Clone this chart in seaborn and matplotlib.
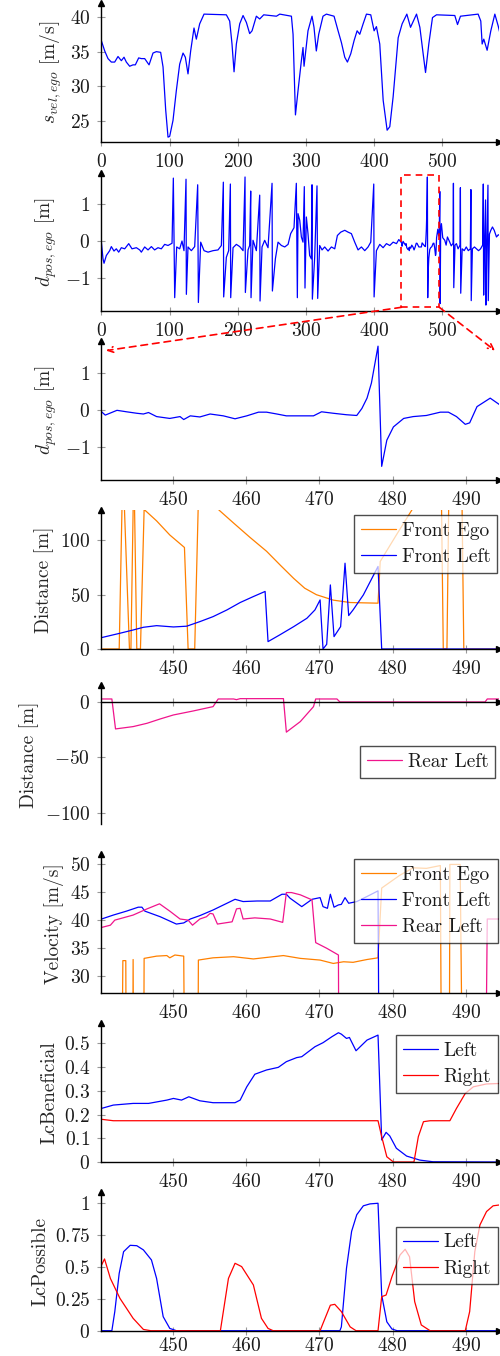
import matplotlib
matplotlib.use("Agg")
import matplotlib.pyplot as plt
import seaborn as sns
from matplotlib.patches import Rectangle, ConnectionPatch
from matplotlib.ticker import FuncFormatter

sns.set_style("ticks")
plt.rcParams["font.family"] = ["cmr10", "DejaVu Serif"]
plt.rcParams["mathtext.fontset"] = "cm"
plt.rcParams["axes.formatter.use_mathtext"] = True
plt.rcParams["font.size"] = 14
plt.rcParams["text.color"] = "#1a1a1a"

BLUE = "#0000ff"
RED = "#ff0000"
ORANGE = "#ff8000"
PINK = "#f0148c"

# ---------------------------------------------------------
# data: ego speed over the full run
# ---------------------------------------------------------
speed_t = [0, 5, 9.8, 14.7, 19.6, 24.5, 29.4, 33.3, 36.7, 41.6, 46.5, 49.9, 54.8, 58.7, 63.6,
           70, 75.8, 80.7, 87, 90.5, 94.4, 97.8, 100.2, 105.1, 110, 114.9, 119.8, 123.2, 127.1,
           131, 135.9, 139.3, 144.2, 150.6, 183.3, 188.2, 191.6, 194.6, 198, 202.9, 207.8,
           212.7, 217.5, 221, 227.3, 232.2, 238.1, 256.7, 261.6, 278.7, 281.1, 284.6, 288.4,
           293.3, 295.7, 297.2, 303, 308.9, 311.8, 315.2, 318.7, 325, 330, 341.2, 347.1, 352,
           356.9, 360.8, 365.7, 370.6, 375, 378.9, 383.8, 388.7, 395, 399.9, 403.3, 408.2,
           413.2, 419, 422.9, 427.8, 435.2, 441, 447.9, 453.3, 462.1, 467, 471.8, 475.3, 480.1,
           485.5, 491.4, 518.2, 522.2, 526.5, 552.4, 556.3, 558.3, 560.7, 565.6, 571, 576.9,
           581.8, 584.7]
speed_v = [36.6, 35.1, 34.0, 33.5, 33.5, 34.3, 33.7, 34.2, 33.5, 32.9, 33.1, 33.1, 34.1, 34.0, 34.0,
           33.1, 34.8, 35.0, 34.9, 32.8, 26.6, 22.7, 22.8, 25.1, 29.4, 33.2, 34.8, 34.2, 31.8,
           35.1, 38.4, 36.8, 39.0, 40.4, 40.3, 39.4, 36.1, 32.1, 36.1, 39.0, 40.2,
           39.2, 37.6, 38.0, 40.1, 39.7, 40.3, 40.1, 40.4, 40.1, 37.5, 25.9, 29.4,
           33.7, 35.6, 32.9, 38.0, 40.1, 38.5, 35.1, 37.5, 40.1, 40.4, 40.1, 38.0, 36.3,
           34.2, 33.5, 34.7, 36.6, 38.0, 37.5, 39.0, 40.4, 40.3, 38.0, 38.6, 36.1,
           28.0, 23.7, 24.2, 28.5, 37.0, 39.0, 40.4, 38.5, 40.4, 38.5, 34.7, 32.0, 36.1,
           39.9, 40.3, 40.2, 38.9, 40.1, 40.4, 39.4, 36.1, 36.8, 35.2, 38.0, 40.4,
           38.7, 37.5]

# ---------------------------------------------------------
# data: lateral position, first part (0 - 440)
# ---------------------------------------------------------
dpos_a_t = [0, 2.5, 4, 7.4, 12.3, 14.7, 18.6, 22, 25.5, 29.4, 34.3, 40.2, 45, 51.4, 56.3, 58.7,
            63.6, 68.5, 73.4, 78.2, 83.1, 88, 92.9, 97.8, 103.7, 105.6, 107.6, 110.5, 114.9,
            118.3, 121.2, 124.2, 124.7, 127.1, 132, 136.9, 141.3, 142.3, 145.7, 150.6, 156.5,
            163.8, 171.1, 176, 178.9, 179.4, 183.3, 186.7, 189.2, 189.7, 193.1, 198, 202.9,
            207.8, 210.7, 211.2, 215.1, 217.5, 219, 219.5, 222.4, 227.3, 232.2, 232.7, 235.6,
            239.5, 244.4, 250.3, 250.8, 255.2, 259.1, 264, 268.9, 273.8, 277.6, 282.5, 285.9,
            287.4, 288.4, 290.9, 293.3, 295.7, 297.6, 298.6, 300.6, 303, 305.4, 307.9, 308.9,
            309.4, 312.8, 316.2, 317.2, 320.1, 323.6, 327.5, 332.4, 337.3, 342.2, 346.1, 351,
            356.9, 361.8, 366.6, 371.5, 376.4, 381.3, 386.2, 391.1, 395, 399.4, 399.9, 403.3,
            408.2, 413.1, 418, 422.9, 427.8, 432.7, 436.1]
dpos_a_v = [0, -0.47, -0.59, -0.38, -0.25, -0.14, -0.26, -0.2, -0.29, -0.17, -0.2, -0.06, -0.2, -0.17,
            -0.23, -0.29, -0.15, -0.23, -0.14, -0.23, -0.17, -0.2, -0.08, -0.11, -0.05, 1.71, -1.52,
            -0.15, -0.2, 0.01, -0.25, 1.68, -1.43, -0.15, -0.25, -0.14, 1.53, -1.65, -0.02, -0.25,
            -0.29, -0.25, -0.23, -0.11, 1.6, -1.5, -0.43, -0.25, 1.55, -1.52, -0.17, -0.08, -0.14,
            -0.25, 1.74, -1.38, -0.23, -0.11, 1.36, -1.52, 0.03, -0.25, 1.25, -1.61, -0.15,
            0.03, -0.17, 1.57, -1.34, -0.47, -0.02, -0.11, -0.15, -0.08, 0.21, 0.37, 1.57,
            -1.52, 0.75, 0.57, 0.12, -0.02, 1.48, -1.26, 0.66, 0.21, -0.38, -0.47, 1.53,
            -1.56, -0.43, 1.5, -1.54, -0.11, -0.23, -0.15, -0.26, -0.15, -0.2, 0.16, 0.25,
            0.3, 0.25, 0.21, -0.02, -0.23, -0.15, -0.25, -0.15, -0.02, 1.55, -1.5, -0.25,
            -0.08, -0.17, -0.06, -0.11, -0.02, -0.06, 0.05]

# lateral position, zoomed window (440 - 495)
dpos_z_t = [440.3, 440.8, 442.4, 443.7, 445.1, 446, 446.7, 447.8, 449.6, 451, 451.5, 452.4, 453.7,
            455.1, 456.9, 458.5, 460.1, 461.7, 462.8, 464.2, 465.5, 467.4, 469.2, 470.3, 471.9,
            473.7, 475.1, 475.8, 476.5, 477.1, 478, 478.5, 479.2, 480.1, 481.5, 482.8, 484.6,
            486.5, 487.6, 488.7, 489.9, 490.5, 491.5, 493.3, 494.6]
dpos_z_v = [-0.04, -0.13, 0, -0.04, -0.08, -0.1, -0.06, -0.17, -0.22, -0.17, -0.25, -0.15, -0.18,
            -0.1, -0.15, -0.23, -0.15, -0.05, -0.05, -0.1, -0.15, -0.15, -0.15, -0.04, -0.08,
            -0.12, -0.14, 0.05, 0.33, 0.74, 1.74, -1.52, -0.81, -0.45, -0.22, -0.17, -0.14,
            -0.05, -0.05, -0.17, -0.38, -0.34, 0.1, 0.33, 0.15]

# lateral position, last part (495 - 584)
dpos_b_t = [495.4, 496.2, 496.7, 497.5, 498.6, 500.5, 503.5, 505.5, 507.4, 510.8, 513, 515.7, 516.2,
            516.7, 518.5, 520.6, 523, 525.9, 526.4, 526.9, 529, 532, 535, 538, 541, 541.8, 542.3,
            544, 547, 550, 553, 556, 559, 560, 560.5, 561.5, 563.3, 563.8, 565, 566.8, 567.3,
            569, 571, 573.4, 576, 579.3, 582, 584]
dpos_b_v = [0.2, 1.35, -1.68, 0.3, 0.48, 0.1, 0.03, -0.1, 0.12, -0.02, -0.12, -0.05, 1.57,
            -1.25, -0.1, -0.06, -0.2, -0.1, 1.45, -1.4, -0.2, -0.25, -0.15, -0.25, -0.2, 1.4, -1.6,
            -0.2, -0.15, -0.2, -0.25, -0.2, -0.1, 1.55, -1.45, -0.3, 1.12, -1.72, -0.3, 1.52, -1.6,
            0.2, 0.3, 0.39, 0.3, 0.12, 0.18, 0.16]

# ---------------------------------------------------------
# data: distances to surrounding vehicles (zoomed window)
# ---------------------------------------------------------
front_ego_dist_t = [440.3, 442.7, 443.2, 444.1, 444.3, 444.7, 445.1, 445.6, 446.1, 447.8, 449.6,
                    451.6, 452.1, 453.0, 453.6, 456.3, 458.3, 460.5, 462.8, 464.7, 466.5, 468,
                    469.6, 471.9, 474.2, 476, 478, 478.3, 480.5, 482.8, 484.8, 486.6, 486.9,
                    487.4, 487.7, 489.4, 489.7, 494.6]
front_ego_dist = [0, 0, 170, 0, 0, 170, 0, 0, 128.5, 118, 105,
                  93.5, 0, 0, 165, 128, 116, 103, 90, 77, 65, 56,
                  50, 45, 42.8, 42.5, 42.2, 80.6, 105, 130, 150, 165, 0,
                  0, 165, 165, 0, 0]

front_left_dist_t = [440.3, 442.8, 444.6, 446, 447.8, 450.1, 451.9, 453.7, 455.5, 457.4, 459.2, 461,
                     462.6, 463, 464.6, 466.5, 468.3, 469.4, 470.1, 470.5, 471, 471.5, 472, 472.9,
                     473.5, 474, 474.6, 476, 478, 478.5, 494.6]
front_left_dist = [10.5, 14.5, 17.5, 20, 21.5, 20.3, 21, 25.2, 29.8, 36, 42.8, 48.3,
                   53, 6.8, 13, 20.6, 28.3, 36, 45.2, 0, 4.3, 59, 11.4, 20.6,
                   79, 30.8, 36, 49.8, 76, 0, 0]

rear_left_dist_t = [440.3, 441.7, 442.2, 444.6, 446.5, 448.3, 450.1, 452.8, 455.5, 456.2, 458.3,
                    458.7, 459.2, 465.1, 465.5, 467.4, 469.2, 469.5, 472.4, 472.8, 492.6, 492.9, 494.6]
rear_left_dist = [2.7, 2.7, -24.3, -22.2, -19.2, -15.3, -11.7, -8.1, -4.2, 2.7, 2.7,
                  2.1, 3, 3, -27.2, -17.7, -4.2, 2.7, 2.7, 0, 0, 2.7, 2.7]

# ---------------------------------------------------------
# data: velocities of surrounding vehicles
# ---------------------------------------------------------
front_ego_vel_t = [440.3, 443.0, 443.2, 443.6, 443.7, 444.5, 444.6, 444.7, 446.0, 446.1, 447.8, 449.2,
                   449.6, 450.3, 451.5, 451.7, 453.4, 453.5, 455.5, 458.3, 461, 463.7, 465.1,
                   467.4, 470.1, 471.9, 473.3, 474.6, 476.5, 478, 478.5, 481, 482.8, 484.6,
                   486.5, 486.7, 487.7, 487.8, 489.2, 489.6, 494.6]
front_ego_vel = [0, 0, 32.8, 32.8, 0, 0, 33, 0, 0, 33.2, 33.6, 33.7,
                 33.3, 33.8, 33.6, 0, 0, 32.9, 33.3, 33.5, 33.1, 33.5, 33.7,
                 33.2, 32.9, 32.3, 32.6, 32.5, 33, 33.3, 45.7, 48, 49.3, 49.2,
                 49.7, 0, 0, 49.9, 49.9, 0, 0]

front_left_vel_t = [440.3, 441.9, 443.7, 445.3, 445.8, 446.2, 448.3, 450.5, 451.5, 452.4, 453.7,
                    455.5, 457.4, 458.5, 459.6, 461.5, 463.3, 464.9, 465.5, 466, 467.6, 469,
                    470.1, 470.5, 471.1, 471.5, 472, 472.6, 473, 473.5, 474, 475.1, 476.5, 478,
                    478.2, 494.6]
front_left_vel = [40.2, 40.9, 41.6, 42.3, 42.3, 41.6, 40.6, 39.3, 39.5, 40.2, 40.8,
                  41.8, 43, 43.7, 43.3, 43.4, 43.4, 44.6, 44.6, 43.9, 42.4, 43.7,
                  44, 42.4, 42.1, 44.6, 42.3, 42.7, 42.8, 44, 43, 43.3, 44.2, 45.2,
                  0, 0]

rear_left_vel_t = [440.3, 441.5, 442.1, 444.6, 446.5, 448.2, 449.6, 451, 452.1, 452.7, 453.7, 454.6,
                   455.1, 455.5, 456.1, 458.1, 458.7, 459.2, 459.6, 461.2, 463.3, 465, 465.5,
                   466.2, 467.4, 469, 469.5, 471, 472.6, 472.7, 492.6, 492.9, 494.6]
rear_left_vel = [38.7, 39.1, 40, 40.9, 42, 42.9, 41.6, 40.2, 40, 39.1, 40.2, 40.6,
                 41.2, 41.1, 39.3, 39.7, 42, 42.1, 40.2, 40.4, 40.2, 39.6, 44.9,
                 44.9, 44.5, 43.6, 36, 35, 33.8, 0, 0, 40.2, 40.2]

# ---------------------------------------------------------
# data: lane change beneficial / possible
# ---------------------------------------------------------
lcb_left_t = [440.3, 441.9, 444.6, 446.7, 449.2, 450.1, 451.2, 452.2, 453.7, 455.5, 458.5, 459.2,
              460.1, 461.2, 462.8, 464.4, 465.5, 466.9, 467.6, 469.4, 470.5, 471.7, 472.6, 473,
              473.7, 474.1, 475, 476.5, 478, 478.5, 479.1, 479.6, 480.5, 481.9, 483.7, 485.5, 494.6]
lcb_left = [0.226, 0.24, 0.247, 0.247, 0.261, 0.268, 0.261, 0.275, 0.258, 0.25, 0.25, 0.261,
            0.317, 0.37, 0.388, 0.399, 0.423, 0.44, 0.444, 0.486, 0.503, 0.528, 0.545, 0.539,
            0.521, 0.525, 0.469, 0.514, 0.535, 0.093, 0.125, 0.11, 0.058, 0.025, 0.008, 0.001, 0]

lcb_right_t = [440.3, 441.9, 478, 478.5, 479.2, 480.1, 482.9, 483.5, 484.2, 485.1, 487.8, 488.7,
               489.9, 491, 492.8, 494.6]
lcb_right = [0.18, 0.174, 0.174, 0.107, 0.022, 0, 0, 0.107, 0.17, 0.174, 0.174, 0.226,
             0.289, 0.317, 0.329, 0.331]

lcp_left_t = [440.3, 441.7, 442.1, 442.7, 443.3, 444.2, 445.1, 446, 447.1, 447.8, 448.7, 449.6,
              450.5, 472.8, 473, 473.7, 474.4, 475.1, 476, 476.9, 478, 478.5, 479.2, 479.9,
              480.6, 494.6]
lcp_left = [0, 0, 0.15, 0.45, 0.62, 0.67, 0.667, 0.634, 0.555, 0.41, 0.11, 0.018,
            0, 0, 0.03, 0.49, 0.78, 0.91, 0.98, 0.995, 1.0, 0.28, 0.07, 0.013,
            0, 0]

lcp_right_t = [440.3, 440.7, 441.5, 442.8, 444.6, 446, 447, 456.5, 457.6, 458.5, 459.4, 461, 462.1,
               463, 463.7, 470.1, 470.5, 471.5, 472.1, 473, 474.2, 475, 478, 478.5, 479.1,
               479.9, 481, 481.7, 482.3, 483, 483.9, 485.1, 489.9, 490.5, 491.2, 491.9,
               492.8, 493.7, 494.6]
lcp_right = [0.516, 0.563, 0.41, 0.254, 0.097, 0.01, 0, 0, 0.41, 0.529, 0.503, 0.359, 0.097,
             0.018, 0, 0, 0.058, 0.2, 0.207, 0.15, 0.03, 0, 0, 0.267, 0.28,
             0.424, 0.594, 0.639, 0.58, 0.228, 0.045, 0, 0, 0.15, 0.62, 0.83,
             0.935, 0.98, 0.987]

# ---------------------------------------------------------
# figure layout
# ---------------------------------------------------------
W, H = 500, 1356
fig = plt.figure(figsize=(W / 100, H / 100), dpi=100)


def make_axes(top, bottom):
    left, right = 101.3, 499
    return fig.add_axes([left / W, 1 - bottom / H, (right - left) / W, (bottom - top) / H])


def style_axes(ax, xlim, ylim, yticks, xticks, zero_axis=False, xpad=5):
    ax.set_xlim(*xlim)
    ax.set_ylim(*ylim)
    ax.set_yticks(yticks)
    ax.set_xticks(xticks)
    fmt = FuncFormatter(lambda v, p: f"${v:g}$")
    ax.xaxis.set_major_formatter(fmt)
    ax.yaxis.set_major_formatter(fmt)
    for s in ["top", "right"]:
        ax.spines[s].set_visible(False)
    for s in ["left", "bottom"]:
        ax.spines[s].set_color("black")
        ax.spines[s].set_linewidth(1.0)
    ax.tick_params(direction="inout", length=6, width=0.8, color="0.6",
                   labelsize=14, labelcolor="#1a1a1a", pad=5)
    ax.tick_params(axis="x", pad=xpad)
    ax.set_xlabel("")
    ax.grid(False)
    # arrow heads at the end of the axis lines
    ax.plot(0, 1, marker="^", color="black", markersize=4, transform=ax.transAxes, clip_on=False)
    if zero_axis:
        ax.spines["bottom"].set_position(("data", 0))
        ax.tick_params(axis="x", labelbottom=False)
        ax.plot(1, 0, marker=">", color="black", markersize=4,
                transform=ax.get_yaxis_transform(), clip_on=False)
    else:
        ax.plot(1, 0, marker=">", color="black", markersize=4, transform=ax.transAxes, clip_on=False)


def add_legend(ax, left_px, top_px):
    leg = ax.legend(loc="upper left", bbox_to_anchor=(left_px / W, 1 - top_px / H),
                    bbox_transform=fig.transFigure, borderaxespad=0, frameon=True,
                    fancybox=False, edgecolor="black", framealpha=0.7, fontsize=14,
                    handlelength=1.8, handletextpad=0.3, labelspacing=0.42, borderpad=0.35)
    leg.get_frame().set_linewidth(1.0)
    return leg


LW = 0.9
ZOOM_X = (440.26, 494.5)
ZOOM_TICKS = [450, 460, 470, 480, 490]

# 1. ego speed
ax1 = make_axes(3, 142)
sns.lineplot(x=speed_t, y=speed_v, ax=ax1, color=BLUE, lw=LW, estimator=None, sort=False, legend=False)
style_axes(ax1, (0, 583), (22, 42), [25, 30, 35, 40], [0, 100, 200, 300, 400, 500])
ax1.set_ylabel(r"$s_{vel,ego}$ [m/s]")

# 2. lateral position, full run
ax2 = make_axes(173.3, 311)
dpos_t = dpos_a_t + dpos_z_t + dpos_b_t
dpos_v = dpos_a_v + dpos_z_v + dpos_b_v
sns.lineplot(x=dpos_t, y=dpos_v, ax=ax2, color=BLUE, lw=LW, estimator=None, sort=False, legend=False)
style_axes(ax2, (0, 583), (-1.88, 1.84), [-1, 0, 1], [0, 100, 200, 300, 400, 500])
ax2.set_ylabel(r"$d_{pos,ego}$ [m]")
ax2.add_patch(Rectangle((440, -1.78), 55.5, 3.57, fill=False, edgecolor=RED,
                        linestyle=(0, (4, 3)), lw=1.2, zorder=5))

# 3. lateral position, zoomed
ax3 = make_axes(341, 480)
sns.lineplot(x=dpos_z_t, y=dpos_z_v, ax=ax3, color=BLUE, lw=LW, estimator=None, sort=False, legend=False)
style_axes(ax3, ZOOM_X, (-1.89, 1.88), [-1, 0, 1], ZOOM_TICKS)
ax3.set_ylabel(r"$d_{pos,ego}$ [m]")

for xa, xb in [(440, 440.9), (495.5, 493.95)]:
    con = ConnectionPatch(xyA=(xa, -1.78), coordsA="data", axesA=ax2,
                          xyB=(xb, 1.62), coordsB="data", axesB=ax3,
                          arrowstyle="->", linestyle=(0, (4, 3)), color=RED, lw=1.2,
                          mutation_scale=10)
    fig.add_artist(con)

# 4. front distances
ax4 = make_axes(510, 649)
sns.lineplot(x=front_ego_dist_t, y=front_ego_dist, ax=ax4, color=ORANGE, lw=LW,
             estimator=None, sort=False, label="Front Ego")
sns.lineplot(x=front_left_dist_t, y=front_left_dist, ax=ax4, color=BLUE, lw=LW,
             estimator=None, sort=False, label="Front Left")
style_axes(ax4, ZOOM_X, (0, 128), [0, 50, 100], ZOOM_TICKS)
ax4.set_ylabel("Distance [m]")
add_legend(ax4, 354, 515)

# 5. rear distance
ax5 = make_axes(685, 824)
sns.lineplot(x=rear_left_dist_t, y=rear_left_dist, ax=ax5, color=PINK, lw=LW,
             estimator=None, sort=False, label="Rear Left")
style_axes(ax5, ZOOM_X, (-110, 15.3), [-100, -50, 0], ZOOM_TICKS, zero_axis=True)
ax5.set_ylabel("Distance [m]")
add_legend(ax5, 360, 746)

# 6. velocities
ax6 = make_axes(854.3, 992.7)
sns.lineplot(x=front_ego_vel_t, y=front_ego_vel, ax=ax6, color=ORANGE, lw=LW,
             estimator=None, sort=False, label="Front Ego")
sns.lineplot(x=front_left_vel_t, y=front_left_vel, ax=ax6, color=BLUE, lw=LW,
             estimator=None, sort=False, label="Front Left")
sns.lineplot(x=rear_left_vel_t, y=rear_left_vel, ax=ax6, color=PINK, lw=LW,
             estimator=None, sort=False, label="Rear Left")
style_axes(ax6, ZOOM_X, (27.1, 51.7), [30, 35, 40, 45, 50], ZOOM_TICKS)
ax6.set_ylabel("Velocity [m/s]")
add_legend(ax6, 354.3, 859.3)

# 7. lane change beneficial
ax7 = make_axes(1023, 1162)
sns.lineplot(x=lcb_left_t, y=lcb_left, ax=ax7, color=BLUE, lw=LW,
             estimator=None, sort=False, label="Left")
sns.lineplot(x=lcb_right_t, y=lcb_right, ax=ax7, color=RED, lw=LW,
             estimator=None, sort=False, label="Right")
style_axes(ax7, ZOOM_X, (0, 0.586), [0, 0.1, 0.2, 0.3, 0.4, 0.5], ZOOM_TICKS)
ax7.set_ylabel("LcBeneficial")
add_legend(ax7, 396, 1035)

# 8. lane change possible
ax8 = make_axes(1192.3, 1330.7)
sns.lineplot(x=lcp_left_t, y=lcp_left, ax=ax8, color=BLUE, lw=LW,
             estimator=None, sort=False, label="Left")
sns.lineplot(x=lcp_right_t, y=lcp_right, ax=ax8, color=RED, lw=LW,
             estimator=None, sort=False, label="Right")
style_axes(ax8, ZOOM_X, (0, 1.086), [0, 0.25, 0.5, 0.75, 1], ZOOM_TICKS, xpad=1.5)
ax8.set_ylabel("LcPossible")
add_legend(ax8, 396, 1226.7)

fig.savefig("out.png", dpi=100)
